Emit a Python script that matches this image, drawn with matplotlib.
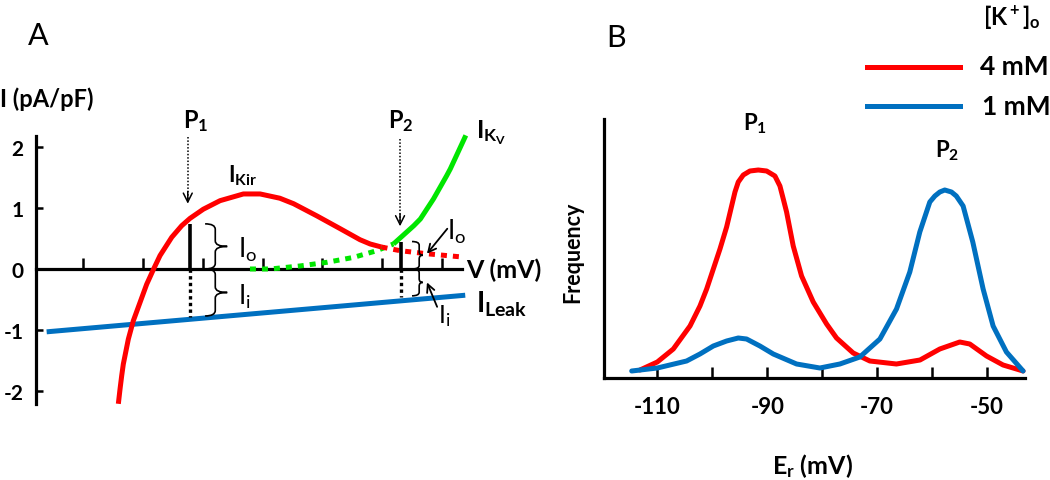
import matplotlib
matplotlib.use('Agg')
import matplotlib.pyplot as plt
from matplotlib.path import Path
from matplotlib.patches import PathPatch
from matplotlib.lines import Line2D

plt.rcParams['font.family'] = ['Lato', 'DejaVu Sans']
plt.rcParams['mathtext.fontset'] = 'custom'
plt.rcParams['mathtext.rm'] = 'Lato'
plt.rcParams['mathtext.it'] = 'Lato:italic'
plt.rcParams['mathtext.bf'] = 'Lato:bold'

# ---------------- Panel A data (schematic I-V relations) ----------------
kir_v = [1.589, 1.617, 1.645, 1.672, 1.756, 1.839, 1.951, 2.063, 2.119, 2.179, 2.286,
         2.482, 2.649, 2.788, 3.01, 3.29, 3.68, 3.96, 4.29, 4.52, 4.91, 5.30, 5.63, 5.80, 5.99]
kir_i = [-2.21, -1.97, -1.75, -1.56, -1.15, -0.85, -0.55, -0.25, -0.13, 0.0, 0.22,
         0.52, 0.71, 0.83, 0.98, 1.12, 1.23, 1.23, 1.16, 1.07, 0.87, 0.66, 0.48, 0.41, 0.36]
kir_ext_v = [5.99, 6.30, 6.75, 7.30]
kir_ext_i = [0.36, 0.30, 0.25, 0.20]
kv_low_v = [3.79, 4.13, 4.63, 5.08, 5.52, 5.91, 6.19]
kv_low_i = [0.0, 0.0, 0.05, 0.11, 0.19, 0.30, 0.41]
kv_v = [6.19, 6.53, 6.64, 6.86, 7.08, 7.14, 7.40]
kv_i = [0.41, 0.71, 0.82, 1.15, 1.53, 1.64, 2.19]
leak_v = [0.39, 7.39]
leak_i = [-1.03, -0.43]
a_yticks = [-2, -1, 0, 1, 2]
a_xticks = [1, 2, 3, 4, 5, 6, 7]
p1_v, p1_top, p1_bot = 2.79, 0.74, -0.78
p2_v, p2_top, p2_bot = 6.31, 0.45, -0.46

# ---------------- Panel B data (distributions of Er) ----------------
er_4mM = [-113.15, -110, -107.09, -104.05, -102.24, -101.02, -99.81, -98.6, -97.39, -96.48,
          -95.87, -95.27, -94.36, -93.15, -91.63, -90.11, -88.6, -87.69, -87.08, -86.48,
          -85.27, -83.75, -81.63, -79.2, -77.39, -74.36, -71.33, -66.5, -62.2,
          -58.6, -54.97, -53.15, -50.1, -47.09, -43.45]
freq_4mM = [8, 16, 29, 52, 72, 89, 109, 129, 151, 172,
            186, 196, 203, 207, 208, 207, 202, 192, 179, 166,
            132, 102, 76, 54, 40, 25, 17, 14, 18,
            29, 36, 34, 22, 13, 7]
er_1mM = [-114.66, -110, -104.67, -102.24, -99.81, -97.39, -95.27, -93.76, -91.33, -88.9,
          -84.66, -80.42, -76.78, -73.15, -69.5, -66.48, -64.06, -62.24, -60.42, -59.5,
          -58.6, -57.7, -56.48, -55.6, -54.36, -52.6, -50.72, -48.9, -46.48, -43.45]
freq_1mM = [7, 10, 17, 24, 32, 37, 40, 39, 32, 24,
            14, 10, 14, 21, 39, 69, 106, 146, 176, 182,
            186, 188, 186, 182, 172, 136, 89, 52, 26, 7]
b_major = [-110, -90, -70, -50]
b_minor = [-100, -80, -60]

RED = '#ff0000'
GREEN = '#00e600'
BLUE = '#0070c0'

W, H = 1050, 481
fig = plt.figure(figsize=(W / 100, H / 100), dpi=100)


def fx(px):
    return px / W


def fy(py):
    return 1 - py / H


# ================= Panel A =================
axA = fig.add_axes([fx(36), fy(405), fx(462) - fx(36), fy(137) - fy(405)])
axA.set_xlim(0.212, 7.336)
axA.set_ylim(-2.213, 2.18)
for s in ['top', 'right']:
    axA.spines[s].set_visible(False)
axA.spines['bottom'].set_position(('data', 0))
axA.spines['left'].set_linewidth(2.3)
axA.spines['bottom'].set_linewidth(2.3)
axA.set_yticks(a_yticks)
axA.set_yticklabels([str(t) for t in a_yticks], fontsize=15, fontweight='bold')
axA.set_xticks(a_xticks)
axA.set_xticklabels([])
axA.tick_params(axis='y', direction='in', length=5, width=1.8, pad=9)
axA.tick_params(axis='x', direction='in', length=8, width=1.8)

lw = 3.6
axA.plot(leak_v, leak_i, color=BLUE, lw=lw, solid_capstyle='butt', clip_on=False, zorder=3)
axA.plot(kv_low_v, kv_low_i, color=GREEN, lw=lw, ls=(0, (1.2, 1.2)), clip_on=False, zorder=3)
axA.plot(kir_ext_v, kir_ext_i, color=RED, lw=lw, ls=(0, (1.2, 1.2)), clip_on=False, zorder=3)
axA.plot(kir_v, kir_i, color=RED, lw=lw, solid_capstyle='butt', solid_joinstyle='round',
         clip_on=False, zorder=4)
axA.plot(kv_v, kv_i, color=GREEN, lw=lw, solid_capstyle='butt', solid_joinstyle='round',
         clip_on=False, zorder=4)

# P1 / P2 vertical markers
for pv, top, bot in [(p1_v, p1_top, p1_bot), (p2_v, p2_top, p2_bot)]:
    axA.plot([pv, pv], [0, top], color='black', lw=2.6, solid_capstyle='butt', zorder=5)
    axA.plot([pv, pv], [0, bot], color='black', lw=2.4, ls=(0, (1, 1)), zorder=5)


def brace(ax, x0, x1, x2, ytop, ybot, r):
    ymid = (ytop + ybot) / 2
    verts = [(x0, ytop), (x1, ytop), (x1, ytop - r), (x1, ymid + r), (x1, ymid), (x2, ymid),
             (x1, ymid), (x1, ymid - r), (x1, ybot + r), (x1, ybot), (x0, ybot)]
    codes = [Path.MOVETO, Path.CURVE3, Path.CURVE3, Path.LINETO, Path.CURVE3, Path.CURVE3,
             Path.CURVE3, Path.CURVE3, Path.LINETO, Path.CURVE3, Path.CURVE3]
    ax.add_patch(PathPatch(Path(verts, codes), fill=False, lw=1.2, color='black',
                           clip_on=False, zorder=6))


brace(axA, 3.04, 3.21, 3.41, p1_top, 0.0, 0.09)
brace(axA, 3.04, 3.21, 3.41, 0.0, -0.77, 0.09)
brace(axA, 6.50, 6.62, 6.68, p2_top, 0.0, 0.06)
brace(axA, 6.50, 6.62, 6.68, 0.0, -0.44, 0.06)

axA.text(3.59, 0.20, r'$\mathregular{I_o}$', fontsize=19, ha='left', va='baseline')
axA.text(3.59, -0.57, r'$\mathregular{I_i}$', fontsize=19, ha='left', va='baseline')
axA.text(7.08, 0.49, r'$\mathregular{I_o}$', fontsize=19, ha='left', va='baseline')
axA.text(6.93, -0.87, r'$\mathregular{I_i}$', fontsize=18, ha='left', va='baseline')
axA.annotate('', xy=(6.75, 0.25), xytext=(7.09, 0.66),
             arrowprops=dict(arrowstyle='->', lw=1.3, color='black', shrinkA=0, shrinkB=0,
                             mutation_scale=14), annotation_clip=False)
axA.annotate('', xy=(6.75, -0.22), xytext=(6.92, -0.62),
             arrowprops=dict(arrowstyle='->', lw=1.3, color='black', shrinkA=0, shrinkB=0,
                             mutation_scale=14), annotation_clip=False)

# curve labels
axA.text(3.42, 1.43, r'$\mathregular{I_{Kir}}$', fontsize=16, fontweight='bold', ha='left', va='baseline')
axA.text(7.57, 2.16, r'$\mathregular{I_{K_V}}$', fontsize=18, fontweight='bold', ha='left',
         va='baseline', clip_on=False)
axA.text(7.57, -0.70, r'$\mathregular{I_{Leak}}$', fontsize=20, fontweight='bold', ha='left',
         va='baseline', clip_on=False)
axA.text(7.40, 0.0, 'V (mV)', fontsize=18, fontweight='bold', ha='left', va='center', clip_on=False)

# P labels with dotted arrows
for pv, x_lab, y_from, y_to, lab in [(2.75, 2.67, 2.16, 1.07, r'$\mathregular{P_1}$'),
                                     (6.30, 6.10, 2.13, 0.70, r'$\mathregular{P_2}$')]:
    axA.plot([pv, pv], [y_from, y_to + 0.05], color='black', lw=1.1, ls=(0, (1, 1.2)), clip_on=False)
    axA.annotate('', xy=(pv, y_to), xytext=(pv, y_to + 0.2),
                 arrowprops=dict(arrowstyle='->', lw=1.1, color='black', shrinkA=0, shrinkB=0,
                                 mutation_scale=16), annotation_clip=False)
    axA.text(x_lab, 2.33, lab, fontsize=17, fontweight='bold', ha='left', va='baseline', clip_on=False)

fig.text(fx(0), fy(99), 'I (pA/pF)', fontsize=17, fontweight='bold', ha='left', va='center')
fig.text(fx(38), fy(36), 'A', fontsize=22, ha='center', va='center')

# ================= Panel B =================
axB = fig.add_axes([fx(604), fy(379), fx(1025) - fx(604), fy(120) - fy(379)])
axB.set_xlim(-119.7, -43.1)
axB.set_ylim(0, 259)
for s in ['top', 'right']:
    axB.spines[s].set_visible(False)
axB.spines['left'].set_linewidth(2.3)
axB.spines['bottom'].set_linewidth(2.3)
axB.set_yticks([])
axB.set_xticks(b_major)
axB.set_xticks(b_minor, minor=True)
axB.set_xticklabels([str(t) for t in b_major], fontsize=16, fontweight='bold')
axB.tick_params(axis='x', which='both', direction='in', length=8, width=1.8, pad=13)

axB.plot(er_4mM, freq_4mM, color=RED, lw=lw, solid_joinstyle='round', solid_capstyle='round',
         label='4 mM', clip_on=False)
axB.plot(er_1mM, freq_1mM, color=BLUE, lw=lw, solid_joinstyle='round', solid_capstyle='round',
         label='1 mM', clip_on=False)

fig.text(fx(743), fy(130), r'$\mathregular{P_1}$', fontsize=16, fontweight='bold', ha='left', va='baseline')
fig.text(fx(935), fy(157), r'$\mathregular{P_2}$', fontsize=16, fontweight='bold', ha='left', va='baseline')
fig.text(fx(573), fy(252), 'Frequency', rotation=90, fontsize=15.5, fontweight='bold', ha='center', va='center')
fig.text(fx(812), fy(466), r'$\mathregular{E_r}$ (mV)', fontsize=18, fontweight='bold', ha='center', va='center')
fig.text(fx(616), fy(38), 'B', fontsize=22, ha='center', va='center')

# legend
fig.text(fx(983), fy(25), r'$\mathregular{[K^+]_o}$', fontsize=17, fontweight='bold', ha='left', va='baseline')
fig.add_artist(Line2D([fx(867), fx(960)], [fy(68), fy(68)], color=RED, lw=lw, transform=fig.transFigure))
fig.add_artist(Line2D([fx(867), fx(960)], [fy(107), fy(107)], color=BLUE, lw=lw, transform=fig.transFigure))
fig.text(fx(980), fy(67), '4 mM', fontsize=19, fontweight='bold', ha='left', va='center')
fig.text(fx(982), fy(107), '1 mM', fontsize=19, fontweight='bold', ha='left', va='center')

fig.savefig('out.png', dpi=100)
